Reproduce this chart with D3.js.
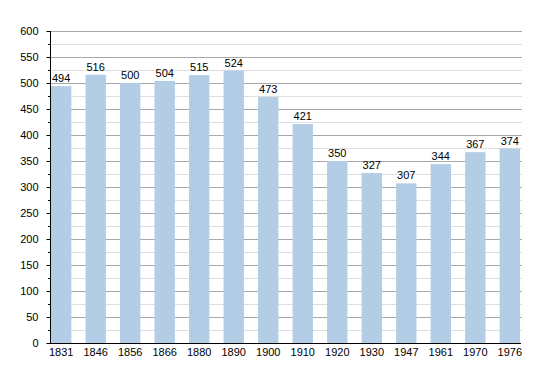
<!DOCTYPE html>
<html>
<head>
<meta charset="utf-8">
<script src="https://cdn.jsdelivr.net/npm/d3@7"></script>
<style>
  body { margin: 0; background: #fff; }
  text { font-family: "Liberation Sans", Arial, sans-serif; font-size: 11px; fill: #000; }
</style>
</head>
<body>
<svg id="chart" width="550" height="373"></svg>
<script>
// years and population
var years = ["1831","1846","1856","1866","1880","1890","1900","1910","1920","1930","1947","1961","1970","1976"];
var population = [494, 516, 500, 504, 515, 524, 473, 421, 350, 327, 307, 344, 367, 374];
var majorTicks = [0, 50, 100, 150, 200, 250, 300, 350, 400, 450, 500, 550, 600];
var minorTicks = [25, 75, 125, 175, 225, 275, 325, 375, 425, 475, 525, 575];

var svg = d3.select("#chart");
// plot edges (don't use "top", it's window.top)
var plotLeft = 50, plotRight = 521, plotTop = 31, plotBottom = 343;

var x = d3.scaleBand()
    .domain(years)
    .range([plotLeft + 1, plotRight - 1])
    .paddingInner(0.41)
    .paddingOuter(0);

var y = d3.scaleLinear()
    .domain([0, 600])
    .range([plotBottom, plotTop]);

function py(d) { return Math.round(y(d)) + 0.5; }

// grid lines, light ones at 25s then darker at 50s
svg.append("g").selectAll("line")
    .data(minorTicks)
    .enter().append("line")
    .attr("x1", plotLeft).attr("x2", plotRight + 1)
    .attr("y1", py).attr("y2", py)
    .style("stroke", "#dedede");

svg.append("g").selectAll("line")
    .data(majorTicks.slice(1))
    .enter().append("line")
    .attr("x1", plotLeft).attr("x2", plotRight + 1)
    .attr("y1", py).attr("y2", py)
    .style("stroke", "#a8a8a8");

// bars
svg.append("g").selectAll("rect")
    .data(population)
    .enter().append("rect")
    .attr("x", function (d, i) { return x(years[i]); })
    .attr("width", x.bandwidth())
    .attr("y", function (d) { return y(d); })
    .attr("height", function (d) { return plotBottom - y(d); })
    .style("fill", "#b3cde6");

// value labels
svg.append("g").selectAll("text")
    .data(population)
    .enter().append("text")
    .attr("x", function (d, i) { return x(years[i]) + x.bandwidth() / 2; })
    .attr("y", function (d) { return y(d) - 4; })
    .attr("text-anchor", "middle")
    .text(function (d) { return d; });

// y axis
var yAxis = d3.axisLeft(y).tickValues(majorTicks).tickSize(4).tickPadding(8);
var gy = svg.append("g")
    .attr("transform", "translate(" + (plotLeft + 0.5) + ",0)")
    .call(yAxis);
gy.select(".domain").attr("d", "M0," + plotTop + "V" + plotBottom).style("stroke", "#000");
gy.selectAll(".tick line").style("stroke", "#000");
gy.selectAll("text").style("font-size", "11px").style("font-family", null);

svg.append("g").selectAll("line")
    .data(minorTicks)
    .enter().append("line")
    .attr("x1", plotLeft - 2).attr("x2", plotLeft)
    .attr("y1", py).attr("y2", py)
    .style("stroke", "#000");

// x axis
var xAxis = d3.axisBottom(x).tickSize(0).tickPadding(5);
var gx = svg.append("g")
    .attr("transform", "translate(0," + (plotBottom + 0.5) + ")")
    .call(xAxis);
gx.select(".domain").attr("d", "M" + plotLeft + ",0H" + plotRight).style("stroke", "#000");
gx.selectAll("text").style("font-size", "11px").style("font-family", null);
</script>
</body>
</html>
